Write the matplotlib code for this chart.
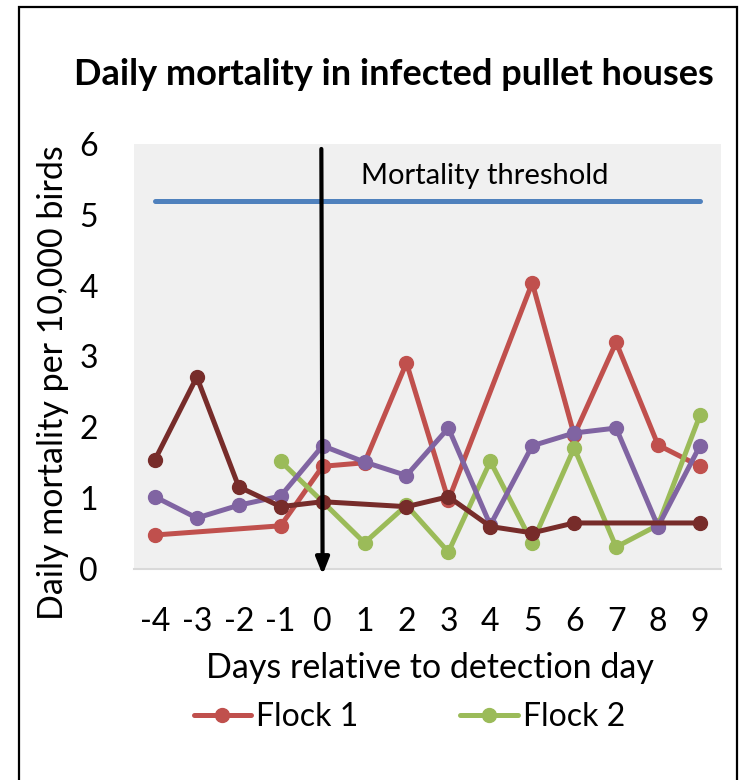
import numpy as np
import matplotlib.pyplot as plt
from matplotlib.patches import Rectangle

plt.rcParams['font.family'] = ['Lato', 'DejaVu Sans']

days = [-4, -3, -2, -1, 0, 1, 2, 3, 4, 5, 6, 7, 8, 9]
nan = np.nan
flock1 = [0.48, nan, nan, 0.61, 1.45, 1.50, 2.91, 0.97, nan, 4.04, 1.89, 3.20, 1.75, 1.45]
flock2 = [nan, nan, nan, 1.52, 0.95, 0.37, 0.90, 0.24, 1.52, 0.37, 1.71, 0.31, 0.62, 2.17]
flock3 = [1.54, 2.71, 1.16, 0.88, 0.95, nan, 0.88, 1.02, 0.60, 0.51, 0.65, nan, nan, 0.65]
flock4 = [1.02, 0.72, 0.90, 1.03, 1.74, 1.51, 1.32, 1.99, 0.62, 1.74, 1.92, 1.99, 0.60, 1.74]
threshold = 5.2

series = [
    ('Flock 1', flock1, '#C0504D'),
    ('Flock 2', flock2, '#9BBB59'),
    ('Flock 4', flock4, '#8064A2'),
    ('Flock 3', flock3, '#772C2A'),
]

fig = plt.figure(figsize=(7.44, 7.8), dpi=100)
ax = fig.add_axes([0.180, 0.2705, 0.789, 0.5449])
ax.set_facecolor('#F0F0F0')

x = np.array(days)
handles = []
for name, vals, color in series:
    v = np.array(vals, dtype=float)
    ok = ~np.isnan(v)
    h, = ax.plot(x[ok], v[ok], color=color, lw=3.6, marker='o', ms=10,
                 solid_capstyle='round', solid_joinstyle='round', label=name)
    handles.append(h)

ax.plot([days[0], days[-1]], [threshold, threshold], color='#4F81BD', lw=3.6,
        solid_capstyle='round')
ax.text(3.86, 5.55, 'Mortality threshold', fontsize=21, ha='center', va='center')

ax.annotate('', xy=(0, -0.08), xytext=(-0.03, 5.93),
            arrowprops=dict(arrowstyle='-|>,head_length=1.0,head_width=0.4',
                            color='black', lw=3, shrinkA=0, shrinkB=0),
            annotation_clip=False)

ax.set_xlim(-4.5, 9.5)
ax.set_ylim(0, 6)
ax.set_xticks(days)
ax.set_xticklabels([str(d) for d in days])
ax.set_yticks(range(7))
ax.tick_params(length=0, labelsize=23)
ax.tick_params(axis='x', pad=27)
ax.tick_params(axis='y', pad=26)
for s in ['top', 'right', 'left']:
    ax.spines[s].set_visible(False)
ax.spines['bottom'].set_color('#D9D9D9')
ax.spines['bottom'].set_linewidth(1.5)

fig.text(0.529, 0.904, 'Daily mortality in infected pullet houses',
         fontsize=26, fontweight='bold', ha='center', va='center')
fig.text(0.071, 0.51, 'Daily mortality per 10,000 birds', fontsize=24.5,
         rotation=90, ha='center', va='center')
fig.text(0.578, 0.1436, 'Days relative to detection day', fontsize=24.5,
         ha='center', va='center')

fig.legend(handles=handles[:2], loc='center', bbox_to_anchor=(0.55, 0.081),
           ncol=2, frameon=False, fontsize=23, handlelength=1.8,
           handletextpad=0.15, columnspacing=3.2)

fig.patches.append(Rectangle((19 / 744, -0.05), 718 / 744, 1.05 - 7 / 780,
                             transform=fig.transFigure, fill=False,
                             edgecolor='black', lw=1.6))

fig.savefig('out.png', dpi=100)
